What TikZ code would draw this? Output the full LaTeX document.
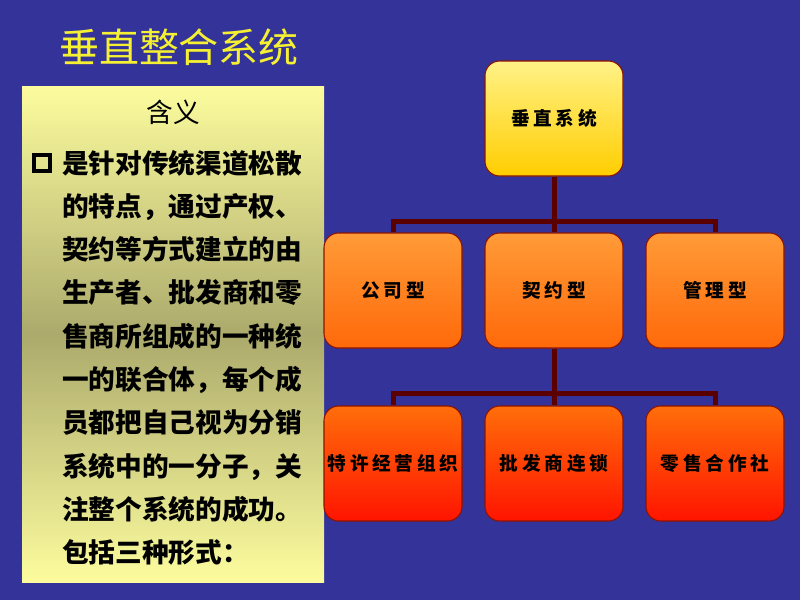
\documentclass[tikz,border=0pt]{standalone}
\usepackage{fontspec}
\newfontfamily\cjk{Noto Sans CJK SC}
\definecolor{bgblue}{RGB}{51,51,153}
\definecolor{titleY}{RGB}{245,240,50}
\definecolor{paleY}{RGB}{252,252,158}
\definecolor{oliveY}{RGB}{172,170,108}
\definecolor{lineR}{RGB}{90,0,0}
\definecolor{edgeR}{RGB}{140,20,0}
\definecolor{yTop}{RGB}{255,242,135}
\definecolor{yBot}{RGB}{255,205,0}
\definecolor{oTop}{RGB}{255,155,55}
\definecolor{oBot}{RGB}{255,105,10}
\definecolor{rTop}{RGB}{255,110,10}
\definecolor{rBot}{RGB}{255,20,0}
\newcommand\gk{\hspace{2.8pt}}
\tikzset{
  orgbox/.style={draw=edgeR, line width=0.8pt, rounded corners=11pt,
    minimum width=103.5pt, minimum height=86.25pt, inner sep=0pt,
    font=\cjk\bfseries\fontsize{14}{16}\selectfont, text=black},
  lvlA/.style={orgbox, top color=yTop, bottom color=yBot},
  lvlB/.style={orgbox, top color=oTop, bottom color=oBot},
  lvlC/.style={orgbox, top color=rTop, bottom color=rBot},
  conn/.style={draw=lineR, line width=3.75pt},
  bodytext/.style={anchor=base west, inner sep=0pt,
    font=\cjk\bfseries\fontsize{20}{24}\selectfont, text=black}
}
\begin{document}
\begin{tikzpicture}[x=0.75pt,y=-0.75pt]
\useasboundingbox (0,0) rectangle (800,600);
\fill[bgblue] (0,0) rectangle (800,600);
% title
\node[font=\cjk\fontsize{30}{34}\selectfont, text=titleY, inner sep=0pt] (title) at (179,47) {垂直整合系统};
% left panel
\shade[top color=paleY, bottom color=paleY, middle color=oliveY] (22,86) rectangle (324,582);
\node[font=\cjk\fontsize{20}{24}\selectfont, inner sep=0pt] (head) at (173,112) {含义};
\node[draw=black, line width=3pt, minimum size=12pt, inner sep=0pt] (bul) at (42,163) {};
\foreach \i/\t in {0/是针对传统渠道松散, 1/的特点，通过产权、, 2/契约等方式建立的由, 3/生产者、批发商和零, 4/售商所组成的一种统, 5/一的联合体，每个成, 6/员都把自己视为分销, 7/系统中的一分子，关, 8/注整个系统的成功。, 9/包括三种形式：}
  \node[bodytext] (l\i) at (62,{173+43.33*\i}) {\t};
% org chart
\node[lvlA] (top) at (554,118.5) {垂\gk 直\gk 系\gk 统};
\node[lvlB] (a1) at (393,290.5) {公\gk 司\gk 型};
\node[lvlB] (a2) at (554,290.5) {契\gk 约\gk 型};
\node[lvlB] (a3) at (715,290.5) {管\gk 理\gk 型};
\node[lvlC] (b1) at (393,463.5) {特\gk 许\gk 经\gk 营\gk 组\gk 织};
\node[lvlC] (b2) at (554,463.5) {批\gk 发\gk 商\gk 连\gk 锁};
\node[lvlC] (b3) at (715,463.5) {零\gk 售\gk 合\gk 作\gk 社};
\coordinate (j1) at (554,221);
\coordinate (j2) at (554,393);
\draw[conn] (top.south) -- (j1);
\draw[conn] (a1.north) |- (j1) -| (a3.north);
\draw[conn] (j1) -- (a2.north);
\draw[conn] (a2.south) -- (j2);
\draw[conn] (b1.north) |- (j2) -| (b3.north);
\draw[conn] (j2) -- (b2.north);
\end{tikzpicture}
\end{document}
